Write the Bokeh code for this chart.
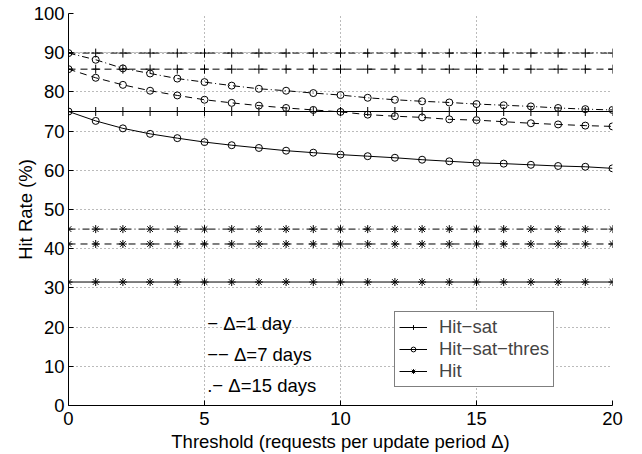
from bokeh.plotting import figure
from bokeh.models import Range1d, Legend, LegendItem, Label, FixedTicker, ColumnDataSource
from bokeh.embed import file_html
from bokeh.resources import INLINE

thresholds = list(range(21))
periods = ["1 day", "7 days", "15 days"]

hit_sat = [75.0, 85.8, 89.9]
hit = [31.5, 41.2, 45.0]

thres_1day = [75.0, 72.6, 70.7, 69.3, 68.2, 67.2, 66.4, 65.7, 65.0, 64.5, 64.0,
              63.6, 63.2, 62.7, 62.3, 61.9, 61.7, 61.4, 61.1, 60.9, 60.5]
thres_7days = [85.8, 83.6, 81.8, 80.3, 79.1, 78.0, 77.2, 76.5, 75.9, 75.4, 74.9,
               74.2, 73.8, 73.5, 73.0, 72.8, 72.4, 72.0, 71.7, 71.4, 71.2]
thres_15days = [89.9, 88.2, 86.0, 84.7, 83.4, 82.5, 81.6, 80.8, 80.3, 79.7, 79.2,
                78.5, 78.0, 77.6, 77.3, 76.9, 76.6, 76.3, 75.9, 75.6, 75.4]
thres = [thres_1day, thres_7days, thres_15days]

x_ticks = [0, 5, 10, 15, 20]
y_ticks = [0, 10, 20, 30, 40, 50, 60, 70, 80, 90, 100]

legend_labels = ["Hit\u2212sat", "Hit\u2212sat\u2212thres", "Hit"]
NB = "\u00a0"
annotations = ["\u2212" + NB + "\u0394=1 day",
               "\u2212\u2212" + NB + "\u0394=7 days",
               ".\u2212" + NB + "\u0394=15 days"]
annot_y = [21.0, 13.0, 5.0]
annot_x = 5.1

FONT = "Liberation Sans"
FS = "18.5px"
dashes = ["solid", "7 5", "7 3 1 3"]

p = figure(width=642, height=454, output_backend="svg", toolbar_location=None,
           x_range=Range1d(0, 20), y_range=Range1d(0, 100),
           min_border_left=68, min_border_right=30, min_border_top=13, min_border_bottom=49)
p.outline_line_color = None
p.background_fill_color = "white"

for ax in (p.xaxis[0], p.yaxis[0]):
    ax.axis_line_color = "black"
    ax.major_tick_in = 5
    ax.major_tick_out = 0
    ax.minor_tick_line_color = None
    ax.major_label_text_font = FONT
    ax.major_label_text_font_size = FS
    ax.major_label_text_color = "black"
    ax.axis_label_text_font = FONT
    ax.axis_label_text_font_size = FS
    ax.axis_label_text_font_style = "normal"
    ax.axis_label_text_color = "black"

p.xaxis.ticker = FixedTicker(ticks=x_ticks)
p.yaxis.ticker = FixedTicker(ticks=y_ticks)
p.xaxis.axis_label = "Threshold (requests per update period \u0394)"
p.yaxis.axis_label = "Hit Rate (%)"
p.xaxis.major_label_standoff = 6
p.xaxis.axis_label_standoff = 3
p.yaxis.major_label_standoff = 4
p.yaxis.axis_label_standoff = -5

for g in (p.xgrid[0], p.ygrid[0]):
    g.grid_line_color = "#777777"
    g.grid_line_dash = "1 3"
    g.grid_line_width = 1

legend_rends = []
for i, per in enumerate(periods):
    src_sat = ColumnDataSource(dict(x=thresholds, y=[hit_sat[i]] * len(thresholds)))
    src_hit = ColumnDataSource(dict(x=thresholds, y=[hit[i]] * len(thresholds)))
    src_thr = ColumnDataSource(dict(x=thresholds, y=thres[i]))
    rs = []
    for src, marker, size in ((src_sat, "cross", 9), (src_thr, "circle", 7), (src_hit, "asterisk", 8)):
        l = p.line("x", "y", source=src, line_color="black", line_width=1, line_dash=dashes[i])
        m = p.scatter("x", "y", source=src, marker=marker, size=size, line_color="black",
                      fill_color=None, line_width=1)
        rs.append((l, m))
    if i == 0:
        legend_rends = rs

items = [LegendItem(label=lab, renderers=list(r)) for lab, r in zip(legend_labels, legend_rends)]
legend = Legend(items=items, location=(326, 18))
legend.label_text_font = FONT
legend.label_text_font_size = FS
legend.label_text_line_height = 0.7
legend.label_height = 12
legend.glyph_height = 12
legend.glyph_width = 28
legend.label_standoff = 12
legend.spacing = 0
legend.padding = 4
legend.margin = 0
legend.border_line_color = "black"
legend.border_line_width = 1.3
legend.background_fill_color = "white"
legend.background_fill_alpha = 1
p.add_layout(legend, "center")

for txt, yy in zip(annotations, annot_y):
    p.add_layout(Label(x=annot_x, y=yy, text=txt, text_font=FONT, text_font_size=FS,
                       text_baseline="middle", text_align="left", text_color="black"))

open("out.html", "w").write(file_html(p, INLINE))
